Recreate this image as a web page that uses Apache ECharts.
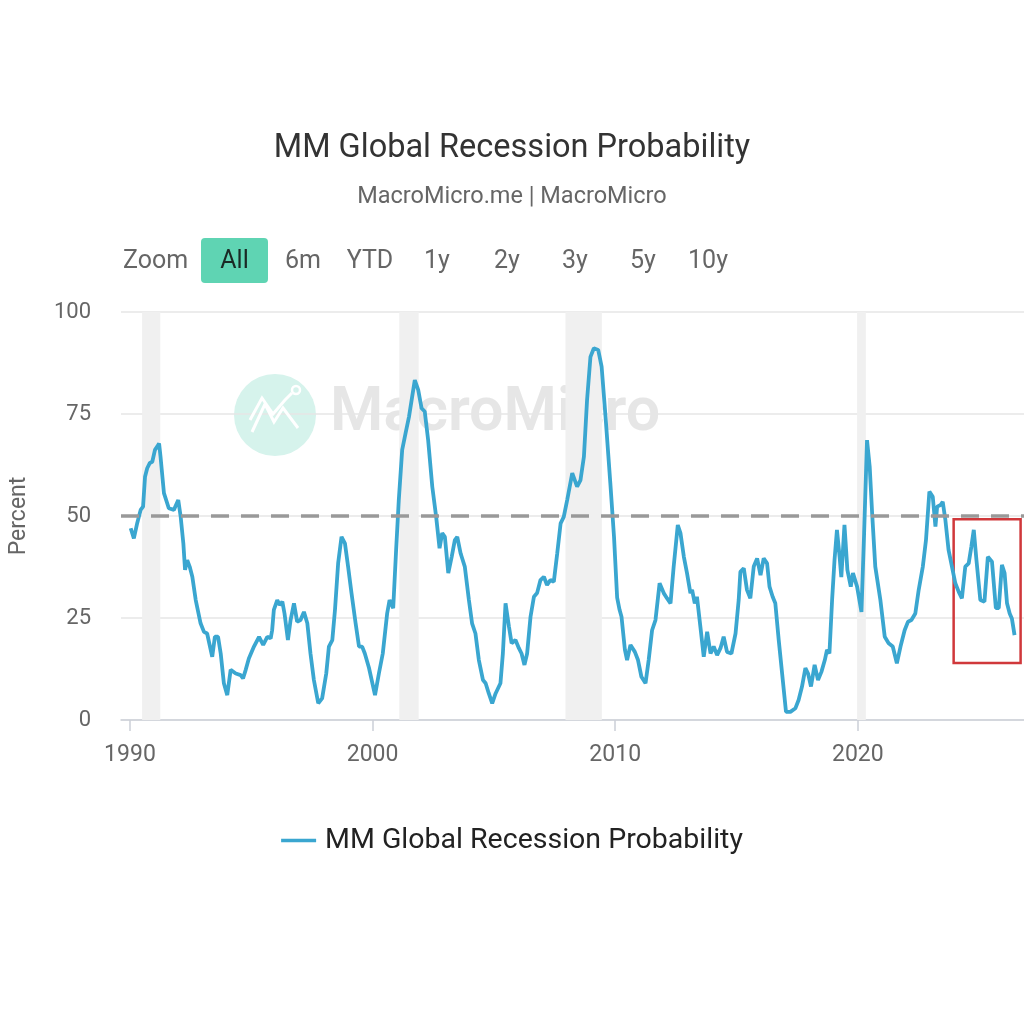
<!DOCTYPE html>
<html>
<head>
<meta charset="utf-8">
<script src="https://cdn.jsdelivr.net/npm/echarts@6/dist/echarts.min.js"></script>
<style>
html,body{margin:0;padding:0;background:#fff;}
#chart{width:1024px;height:1013px;}
</style>
</head>
<body>
<div id="chart"></div>
<script>
// ---- data (decimal years) ----
const years = [
1990.03,1990.16,1990.3,1990.44,1990.54,1990.62,1990.71,1990.82,1990.92,1991.03,1991.12,1991.2,1991.26,1991.4,1991.6,1991.81,1991.99,
1992.09,1992.2,1992.27,1992.36,1992.46,1992.57,1992.71,1992.91,1993.05,1993.18,1993.39,1993.5,1993.63,1993.74,1993.87,1994.01,
1994.15,1994.36,1994.56,1994.66,1994.77,1994.9,1995.11,1995.32,1995.49,1995.66,1995.8,1995.86,1995.93,1996.07,1996.17,1996.28,
1996.37,1996.51,1996.62,1996.76,1996.89,1997.03,1997.17,1997.31,1997.44,1997.58,1997.76,1997.92,1998.09,1998.2,1998.34,1998.45,
1998.58,1998.72,1998.86,1998.99,1999.13,1999.3,1999.44,1999.57,1999.68,1999.85,2000.1,2000.26,2000.42,2000.6,2000.7,2000.85,
2000.97,2001.08,2001.22,2001.36,2001.5,2001.63,2001.74,2001.88,2002.02,2002.15,2002.29,2002.46,2002.62,2002.76,2002.87,2002.98,
2003.12,2003.26,2003.39,2003.49,2003.63,2003.8,2003.97,2004.1,2004.24,2004.38,2004.55,2004.66,2004.79,2004.93,2005.07,2005.27,
2005.37,2005.48,2005.62,2005.73,2005.89,2006.03,2006.14,2006.26,2006.37,2006.51,2006.65,2006.78,2006.92,2007.06,2007.19,2007.33,
2007.47,2007.61,2007.75,2007.88,2008.02,2008.23,2008.43,2008.57,2008.71,2008.84,2008.98,2009.12,2009.3,2009.44,2009.6,2009.8,
2009.95,2010.08,2010.18,2010.26,2010.4,2010.49,2010.63,2010.81,2010.94,2011.08,2011.25,2011.38,2011.52,2011.66,2011.83,2012.0,
2012.14,2012.28,2012.41,2012.58,2012.69,2012.83,2012.96,2013.1,2013.17,2013.28,2013.37,2013.51,2013.65,2013.79,2013.93,2014.06,
2014.2,2014.34,2014.47,2014.61,2014.79,2014.96,2015.09,2015.16,2015.3,2015.43,2015.57,2015.71,2015.85,2015.99,2016.12,2016.26,
2016.36,2016.49,2016.6,2016.74,2016.88,2017.04,2017.22,2017.43,2017.56,2017.7,2017.84,2017.95,2018.07,2018.22,2018.36,2018.5,
2018.64,2018.73,2018.83,2018.94,2019.04,2019.14,2019.25,2019.32,2019.45,2019.57,2019.71,2019.8,2019.97,2020.15,2020.26,2020.38,
2020.49,2020.59,2020.72,2020.93,2021.11,2021.27,2021.44,2021.61,2021.76,2021.93,2022.07,2022.21,2022.37,2022.51,2022.68,2022.81,
2022.95,2023.09,2023.2,2023.27,2023.41,2023.5,2023.61,2023.74,2023.88,2024.02,2024.16,2024.29,2024.43,2024.57,2024.68,2024.78,
2024.89,2025.05,2025.22,2025.36,2025.53,2025.69,2025.81,2025.94,2026.05,2026.15,2026.26,2026.35,2026.46
];
const probability = [
47,44.5,48.3,51.5,52.3,59.6,61.7,63,63.3,66.2,67,67.8,64.5,55.6,51.9,51.5,53.9,
49.8,43.3,36.8,39.2,37.6,35.1,29.4,23.7,21.6,21.2,15.5,20.4,20.4,16.3,9,6.1,
12.3,11.4,11,10.2,12.3,15.1,18,20.4,18.4,20.4,20,22,27,29.4,28.2,29,
26.1,19.6,24.5,28.6,24.1,24.5,26.5,23.7,16.3,9.8,4.1,5.3,11.4,18,19.6,27,
38.4,44.9,43.3,37.6,31.1,23.7,18,18,16.3,12.8,6.1,11.4,16.3,26.1,29.4,27.4,
41.7,53.9,66.2,70.3,74.3,79.2,83.3,80.9,76.4,75.6,68.6,57.2,49.8,42.1,45.8,44.9,
36,40,44.1,44.9,40.8,37.6,29.4,23.7,21.2,14.7,9.8,9,6.5,4.1,6.5,9,
16.3,28.6,22.9,18.8,19.6,17.6,16.3,13.5,16.3,25.3,30.2,31.1,34.3,35.1,33.1,34.3,
33.9,40.8,48.2,49.8,53.9,60.5,57.2,58.8,64.5,78.4,89,91.1,90.7,86.6,74.5,58,
45,30,27,25.3,17.2,14.7,18.4,16.7,14.7,10.6,9,14.7,22,24.5,33.5,31.1,
29.8,28.6,37.6,47.8,45.8,40,36,31.1,31.9,28.6,30.2,22.9,15.5,21.6,16.3,18,
15.9,17.6,20.4,16.7,16.3,21.2,29.4,36.3,37.2,31.9,29.8,37.6,39.6,35.5,39.6,38.4,
32.7,30.2,28.6,19.6,11.4,2,2,2.9,4.9,8.2,12.7,11.4,8.2,13.5,9.8,11.8,
14.7,17.2,16.3,29.4,39.2,46.6,40,35,47.8,36.8,32.7,36,32.7,26.5,45.8,68.6,
62.1,50.7,37.6,29.4,20.4,18.8,18,13.9,18,22,24.1,24.5,26.1,31.9,37.6,44.1,
56,54.7,47.4,52.3,52.7,53.5,49,41.7,37.6,33.5,31.4,29.8,37.6,38.4,42.5,46.6,
39.2,29.4,29,40,38.8,27.4,27.4,38,36,28.6,26.1,24.9,20.8
];
const recessionStart = [1990.5, 2001.1, 2007.95, 2019.97];
const recessionEnd   = [1991.25, 2001.9, 2009.45, 2020.33];
const threshold = 50;
const highlightBox = {x0: 2023.95, x1: 2026.71, y0: 14, y1: 49.2};
const xTicks = [1990, 2000, 2010, 2020];
const yTicks = [0, 25, 50, 75, 100];
const zoomButtons = ['6m','YTD','1y','2y','3y','5y','10y'];
const zoomButtonCenters = [303, 370, 437, 507, 575, 643, 708];

const seriesData = years.map((y, i) => [y, probability[i]]);
const FONT = 'Roboto, "Liberation Sans", sans-serif';

const chart = echarts.init(document.getElementById('chart'), null, {renderer: 'canvas'});

const graphics = [
  // watermark
  {type: 'circle', shape: {cx: 275, cy: 415, r: 41}, style: {fill: '#d6f3ec'}, z: 0, silent: true},
  {type: 'polyline', shape: {points: [[252,432],[265,404],[274,422],[283,408],[298,428]]},
   style: {stroke: '#ffffff', lineWidth: 3, fill: null}, z: 1, silent: true},
  {type: 'polyline', shape: {points: [[250,420],[262,398],[273,414],[285,400],[292,393]]},
   style: {stroke: '#ffffff', lineWidth: 3, fill: null}, z: 1, silent: true},
  {type: 'circle', shape: {cx: 296, cy: 390, r: 4}, style: {fill: null, stroke: '#fff', lineWidth: 2.5}, z: 1, silent: true},
  {type: 'text', x: 330, y: 415, style: {text: 'MacroMicro', font: '600 61px ' + FONT, fill: '#e6e6e6', textVerticalAlign: 'middle'}, z: 0, silent: true},
  // zoom buttons
  {type: 'text', x: 123, y: 262, style: {text: 'Zoom', font: '25px ' + FONT, fill: '#666', textVerticalAlign: 'middle'}},
  {type: 'rect', shape: {x: 201, y: 238, width: 67, height: 45, r: 4}, style: {fill: '#5fd4b3'}},
  {type: 'text', x: 234.5, y: 262, style: {text: 'All', font: '25px ' + FONT, fill: '#1a2a25', textAlign: 'center', textVerticalAlign: 'middle'}}
];
zoomButtons.forEach((b, i) => {
  graphics.push({type: 'text', x: zoomButtonCenters[i], y: 262,
    style: {text: b, font: '25px ' + FONT, fill: '#666', textAlign: 'center', textVerticalAlign: 'middle'}});
});

const option = {
  backgroundColor: '#ffffff',
  animation: false,
  title: {
    text: 'MM Global Recession Probability',
    subtext: 'MacroMicro.me | MacroMicro',
    left: 'center',
    top: 127,
    itemGap: 20,
    textStyle: {fontFamily: FONT, fontSize: 32.5, fontWeight: 'normal', color: '#333'},
    subtextStyle: {fontFamily: FONT, fontSize: 23.5, color: '#666'}
  },
  legend: {
    data: ['MM Global Recession Probability'],
    bottom: 153,
    left: 'center',
    icon: 'rect',
    itemWidth: 35,
    itemHeight: 3.5,
    itemGap: 10,
    textStyle: {fontFamily: FONT, fontSize: 28.5, color: '#222', padding: [0, 0, 0, 4]}
  },
  graphic: graphics,
  grid: {left: 120, right: 0, top: 312, bottom: 293, containLabel: false},
  xAxis: {
    type: 'value',
    min: 1989.63,
    max: 2026.85,
    splitLine: {show: false},
    axisLine: {show: true, lineStyle: {color: '#ccd0d8', width: 1.5}},
    axisTick: {show: true, customValues: xTicks, length: 11, lineStyle: {color: '#ccd0d8', width: 1.5}},
    axisLabel: {customValues: xTicks, fontFamily: FONT, fontSize: 23, color: '#666', margin: 24,
      formatter: v => String(Math.round(v))}
  },
  yAxis: {
    type: 'value',
    min: 0,
    max: 100,
    interval: 25,
    name: 'Percent',
    nameLocation: 'middle',
    nameGap: 90,
    nameRotate: 90,
    nameTextStyle: {fontFamily: FONT, fontSize: 23, color: '#666'},
    axisLine: {show: false},
    axisTick: {show: false},
    splitLine: {lineStyle: {color: '#e6e6e6', width: 1.5}},
    axisLabel: {fontFamily: FONT, fontSize: 22, color: '#666', margin: 30}
  },
  series: [
    {
      name: 'recessions',
      type: 'line',
      data: [],
      z: 1,
      silent: true,
      markArea: {
        silent: true,
        itemStyle: {color: '#f0f0f0'},
        data: recessionStart.map((s, i) => [{xAxis: s}, {xAxis: recessionEnd[i]}])
      }
    },
    {
      name: 'MM Global Recession Probability',
      type: 'line',
      data: seriesData,
      showSymbol: false,
      symbol: 'none',
      z: 3,
      lineStyle: {color: '#3aa6d0', width: 3.8},
      itemStyle: {color: '#3aa6d0'},
      markLine: {
        silent: true,
        symbol: 'none',
        label: {show: false},
        lineStyle: {color: '#999', type: [18, 12], width: 3.5},
        data: [{yAxis: threshold}]
      }
    },
    {
      name: 'box',
      type: 'line',
      data: [],
      z: 4,
      silent: true,
      markArea: {
        silent: true,
        itemStyle: {color: 'rgba(0,0,0,0)', borderColor: '#d0383b', borderWidth: 2.5},
        data: [[{coord: [highlightBox.x0, highlightBox.y1]}, {coord: [highlightBox.x1, highlightBox.y0]}]]
      }
    }
  ]
};
chart.setOption(option);
</script>
</body>
</html>
